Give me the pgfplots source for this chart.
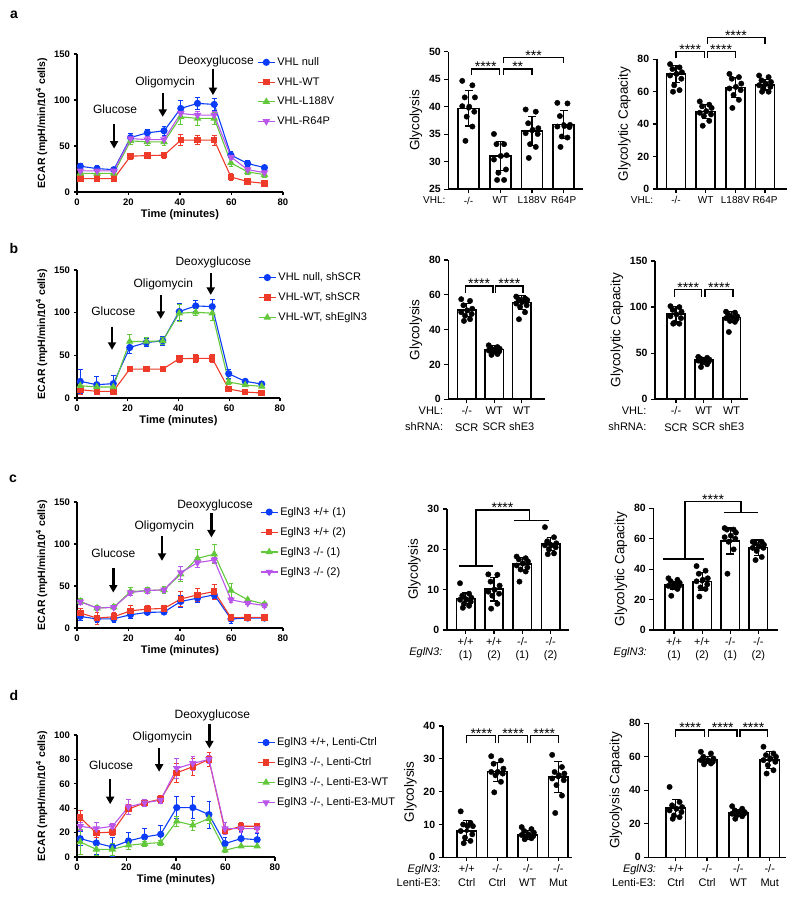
\documentclass[border=0pt]{standalone}
\usepackage{pgfplots}
\pgfplotsset{compat=1.18}
\usepackage{fontspec}
\setmainfont{Liberation Sans}
\usetikzlibrary{arrows.meta}

\definecolor{cblue}{RGB}{10,60,250}
\definecolor{cred}{RGB}{238,58,40}
\definecolor{cgreen}{RGB}{100,200,60}
\definecolor{cpurple}{RGB}{185,85,235}

\pgfplotsset{
  ecar/.style={
    scale only axis, axis lines=left, axis line style={-, line width=1.3pt},
    tick style={black, line width=1.1pt}, tick align=outside, major tick length=3.5pt,
    xmin=0, xmax=80, xtick={0,20,40,60,80}, ymin=0, clip=false,
    /pgf/number format/assume math mode=true,
    ticklabel style={font=\fontsize{9.5}{10}\selectfont\bfseries},
    xlabel={Time (minutes)}, ylabel={ECAR (mpH/min/10\textsuperscript{4} cells)},
    xlabel style={font=\fontsize{11}{12}\selectfont\bfseries, yshift=3pt},
    ylabel style={font=\fontsize{10.5}{11}\selectfont\bfseries},
    legend cell align=left,
    legend style={draw=none, fill=none, font=\fontsize{11}{12}\selectfont,
      anchor=north west, inner sep=0pt, row sep=6.5pt},
  },
  ser/.style={#1, line width=1.1pt, mark options={solid, fill=#1},
    /pgfplots/error bars/y dir=both, /pgfplots/error bars/y explicit,
    /pgfplots/error bars/error bar style={line width=0.8pt},
    /pgfplots/error bars/error mark options={rotate=90, mark size=2.3pt, line width=0.8pt}},
  barax/.style={
    scale only axis, axis lines=left, axis line style={-, line width=1.6pt},
    tick style={black, line width=1.3pt}, tick align=outside, major tick length=4pt,
    ymin=0, clip=false,
    /pgf/number format/assume math mode=true,
    yticklabel style={font=\fontsize{10.5}{11}\selectfont\bfseries},
    xticklabel style={font=\fontsize{11}{16.5}\selectfont, align=center},
    ylabel style={font=\fontsize{13.5}{14}\selectfont},
  },
  barplot/.style={ybar, bar width=#1, fill=white, draw=black, line width=1.6pt},
  dots/.style={only marks, mark=*, mark size=2.7pt, black},
  errs/.style={only marks, mark=none,
    /pgfplots/error bars/y dir=both, /pgfplots/error bars/y explicit,
    /pgfplots/error bars/error bar style={black, line width=1.2pt},
    /pgfplots/error bars/error mark options={black, rotate=90, mark size=4pt, line width=1.2pt}},
}
\tikzset{
  arr/.style={-{Triangle[length=7.5pt,width=8pt]}, line width=2.4pt, black},
  ann/.style={font=\fontsize{12}{12}\selectfont},
  brk/.style={line width=1.3pt},
  stars/.style={font=\fontsize{14}{14}\selectfont, inner sep=0pt, anchor=south, yshift=-3pt},
  pref/.style={anchor=north east, inner sep=0.3333em, yshift=-4pt, align=right},
  panel/.style={font=\fontsize{14}{14}\selectfont\bfseries},
}

\begin{document}
\begin{tikzpicture}
\useasboundingbox (0,0) rectangle (800pt,906pt);

\node[panel] at (14pt,891pt) {a};
\node[panel] at (14pt,657pt) {b};
\node[panel] at (13pt,427pt) {c};
\node[panel] at (14pt,211pt) {d};

% ---------------- row a ----------------
\begin{axis}[ecar, at={(77pt,714pt)}, anchor=south west, width=206pt, height=138pt,
  ymax=150, ytick={0,50,100,150}, legend style={at={(0.874,0.99)}},
  legend entries={VHL null, VHL-WT, VHL-L188V, VHL-R64P}]
\addplot[ser=cblue, mark=*, mark size=3pt] coordinates {
 (1.3,28) +- (0,3.5) (7.8,25.4) +- (0,3) (14.3,24.3) +- (0,2.5) (20.8,59.2) +- (0,4)
 (27.3,64.3) +- (0,4) (33.8,66.5) +- (0,4.5) (40.3,90.8) +- (0,9) (46.8,96.3) +- (0,6)
 (53.3,95.2) +- (0,6) (59.8,40) +- (0,4) (66.3,30.9) +- (0,3) (72.8,26.5) +- (0,2)};
\addplot[ser=cred, mark=square*, mark size=2.7pt] coordinates {
 (1.3,14.5) +- (0,2) (7.8,14.5) +- (0,1.5) (14.3,14.5) +- (0,2) (20.8,38.9) +- (0,3.5)
 (27.3,39.6) +- (0,3) (33.8,40) +- (0,3.5) (40.3,56.3) +- (0,6) (46.8,56.3) +- (0,5)
 (53.3,56.3) +- (0,5.5) (59.8,16.3) +- (0,4) (66.3,11.3) +- (0,2) (72.8,9.4) +- (0,1.5)};
\addplot[ser=cgreen, mark=triangle*, mark size=3.3pt] coordinates {
 (1.3,20.3) +- (0,2) (7.8,20.3) +- (0,2) (14.3,20.3) +- (0,2) (20.8,55.6) +- (0,4)
 (27.3,54.5) +- (0,4) (33.8,54.5) +- (0,4) (40.3,81.7) +- (0,8) (46.8,80) +- (0,8)
 (53.3,80) +- (0,7) (59.8,31.6) +- (0,4) (66.3,21.8) +- (0,3) (72.8,18.9) +- (0,3)};
\addplot[ser=cpurple, mark=triangle*, mark size=3.3pt, mark options={solid, fill=cpurple, rotate=180}] coordinates {
 (1.3,22.9) +- (0,2) (7.8,22.9) +- (0,2) (14.3,22.9) +- (0,2) (20.8,58) +- (0,3)
 (27.3,57) +- (0,3) (33.8,57) +- (0,3) (40.3,85.4) +- (0,4) (46.8,83.5) +- (0,4)
 (53.3,83.5) +- (0,4) (59.8,38) +- (0,3) (66.3,24.3) +- (0,2) (72.8,21) +- (0,2)};
\draw[arr] (axis cs:14.4,73.7) -- (axis cs:14.4,47.2);
\draw[arr] (axis cs:33.3,107.9) -- (axis cs:33.3,81.7);
\draw[arr] (axis cs:52.8,134) -- (axis cs:52.8,105.3);
\node[ann] at (axis cs:14.8,89.7) {Glucose};
\node[ann] at (axis cs:34.2,119) {Oligomycin};
\node[ann] at (axis cs:54,142.4) {Deoxyglucose};
\end{axis}

\begin{axis}[barax, at={(448.3pt,716.7pt)}, anchor=south west, width=134.4pt, height=137.6pt,
  xmin=-0.64, xmax=3.6, ymin=25, ymax=50, ytick={25,30,...,50}, clip mode=individual,
  xticklabel style={font=\fontsize{10}{12}\selectfont},
  xtick={0,1,2,3}, xticklabels={-/-, WT, L188V, R64P}, ylabel={Glycolysis}]
\addplot[barplot=0.66] coordinates {(0,39.7) (1,31.05) (2,35.6) (3,36.8)};
\addplot[dots] coordinates {
 (-0.2,44.7) (0.12,43.9) (-0.12,41.7) (0.2,41.7) (0.02,40.0) (-0.2,40.1) (0.18,39.1) (-0.06,38.2) (0.12,36.4) (-0.1,33.8)
 (0.8,35.05) (1.12,33.2) (0.88,33.2) (1.2,31.2) (1.02,31.05) (0.8,30.4) (1.18,28.6) (0.94,28.0) (1.12,26.7) (0.9,26.7)
 (1.8,39.5) (2.12,39.1) (1.88,37.0) (2.2,36.1) (2.02,35.8) (1.8,35.2) (2.18,35.05) (1.94,33.2) (2.12,32.7) (1.9,30.7)
 (2.8,40.7) (3.12,40.6) (2.88,38.3) (3.2,36.7) (3.02,36.5) (2.8,36.4) (3.18,36.3) (2.94,34.6) (3.12,34.4) (2.9,32.7)};
\addplot[errs] coordinates {(0,39.7) +- (0,3.2) (1,31.05) +- (0,2.7) (2,35.6) +- (0,2.6) (3,36.8) +- (0,2.5)};
\draw[brk] (axis cs:0.1,45.76) |- (axis cs:0.98,46.85) -- (axis cs:0.98,45.76);
\node[stars] at (axis cs:0.54,46.85) {****};
\draw[brk] (axis cs:1.1,45.76) |- (axis cs:2.0,46.85) -- (axis cs:2.0,45.76);
\node[stars] at (axis cs:1.55,46.85) {**};
\draw[brk] (axis cs:1.1,47.9) |- (axis cs:3.0,48.97) -- (axis cs:3.0,47.9);
\node[stars] at (axis cs:2.05,48.97) {***};
\node[pref, font=\fontsize{10}{12}\selectfont] at (axis cs:-0.62,25) {VHL:};
\end{axis}

\begin{axis}[barax, at={(656.7pt,717pt)}, anchor=south west, width=130pt, height=129.7pt,
  xmin=-0.65, xmax=3.73, ymax=80, ytick={0,20,...,80},
  xticklabel style={font=\fontsize{10}{12}\selectfont},
  xtick={0,1,2,3}, xticklabels={-/-, WT, L188V, R64P}, ylabel={Glycolytic Capacity}]
\addplot[barplot=0.64] coordinates {(0,70.9) (1,47.7) (2,62.7) (3,64.2)};
\addplot[dots] coordinates {
 (-0.2,77) (0.12,75) (-0.12,74) (0.2,72) (0.02,71) (-0.2,70) (0.18,68) (-0.06,64) (0.12,61) (-0.1,60)
 (0.8,54) (1.12,52) (0.88,51) (1.2,50) (1.02,48) (0.8,47) (1.18,46) (0.94,45) (1.12,42) (0.9,39)
 (1.8,71) (2.12,69) (1.88,68) (2.2,65) (2.02,63) (1.8,62) (2.18,61) (1.94,58) (2.12,55) (1.9,50)
 (2.8,70) (3.12,69) (2.88,67) (3.2,66) (3.02,65) (2.8,64) (3.18,63) (2.94,62) (3.12,60) (2.9,60)};
\addplot[errs] coordinates {(0,70.9) +- (0,5.3) (1,47.7) +- (0,4.3) (2,62.7) +- (0,6.2) (3,64.2) +- (0,3.2)};
\draw[brk] (axis cs:0,80.6) |- (axis cs:0.95,84.7) -- (axis cs:0.95,80.6);
\node[stars] at (axis cs:0.48,84.7) {****};
\draw[brk] (axis cs:1.05,80.6) |- (axis cs:2.0,84.7) -- (axis cs:2.0,80.6);
\node[stars] at (axis cs:1.52,84.7) {****};
\draw[brk] (axis cs:1.05,89.5) |- (axis cs:3.0,93.4) -- (axis cs:3.0,89.5);
\node[stars] at (axis cs:2.02,93.4) {****};
\node[pref, font=\fontsize{10}{12}\selectfont] at (axis cs:-0.65,0) {VHL:};
\end{axis}

% ---------------- row b ----------------
\begin{axis}[ecar, at={(77pt,508pt)}, anchor=south west, width=203pt, height=128pt,
  ymax=150, ytick={0,50,100,150}, legend style={at={(0.892,0.995)}},
  legend entries={{VHL null, shSCR}, {VHL-WT, shSCR}, {VHL-WT, shEglN3}}]
\addplot[ser=cblue, mark=*, mark size=3pt] coordinates {
 (1.3,19.5) +- (0,14) (7.8,15.6) +- (0,10) (14.3,16.8) +- (0,10) (20.8,59.2) +- (0,7)
 (27.3,65) +- (0,5) (33.8,67) +- (0,5) (40.3,101.3) +- (0,10) (46.8,107.9) +- (0,7)
 (53.3,107.1) +- (0,8) (59.8,28.4) +- (0,5) (66.3,19.5) +- (0,2) (72.8,16.4) +- (0,1.5)};
\addplot[ser=cred, mark=square*, mark size=2.7pt] coordinates {
 (1.3,9.7) +- (0,5) (7.8,7.8) +- (0,3) (14.3,7.8) +- (0,4) (20.8,33.9) +- (0,2)
 (27.3,33.9) +- (0,2) (33.8,33.9) +- (0,2) (40.3,46) +- (0,4.5) (46.8,46.4) +- (0,5)
 (53.3,46.4) +- (0,5) (59.8,10.5) +- (0,2.5) (66.3,7) +- (0,1.5) (72.8,5.8) +- (0,1.5)};
\addplot[ser=cgreen, mark=triangle*, mark size=3.3pt] coordinates {
 (1.3,14.4) +- (0,4) (7.8,12.9) +- (0,4) (14.3,12.9) +- (0,4) (20.8,66.2) +- (0,8)
 (27.3,66.2) +- (0,5) (33.8,67) +- (0,4) (40.3,99.3) +- (0,10) (46.8,100.5) +- (0,4)
 (53.3,99.3) +- (0,8) (59.8,18.7) +- (0,3) (66.3,15.2) +- (0,2) (72.8,13.6) +- (0,1.5)};
\draw[arr] (axis cs:13.8,83.7) -- (axis cs:13.8,56.5);
\draw[arr] (axis cs:33,120.8) -- (axis cs:33,92.7);
\draw[arr] (axis cs:52.7,146) -- (axis cs:52.7,120.8);
\node[ann] at (axis cs:14.3,101.3) {Glucose};
\node[ann] at (axis cs:34,133.2) {Oligomycin};
\node[ann] at (axis cs:53.7,158.6) {Deoxyglucose};
\end{axis}

\begin{axis}[barax, at={(448.3pt,506.7pt)}, anchor=south west, width=96.8pt, height=139.3pt,
  xmin=-0.67, xmax=2.85, ymax=80, ytick={0,20,...,80},
  xtick={0,1,2}, xticklabels={{-/-\\SCR}, {WT\\SCR}, {WT\\shE3}}, ylabel={Glycolysis}]
\addplot[barplot=0.68] coordinates {(0,51.3) (1,28.7) (2,55.5)};
\addplot[dots] coordinates {
 (-0.2,57.5) (0.12,56.5) (-0.12,54) (0.2,52) (0.02,51) (-0.2,50) (0.18,49) (-0.06,48) (0.12,46) (-0.1,45)
 (0.8,31) (1.12,30) (0.88,29.5) (1.2,29) (1.02,28.5) (0.8,28) (1.18,27.5) (0.94,27) (1.12,26) (0.9,25.5)
 (1.8,59) (2.12,58) (1.88,57.5) (2.2,57) (2.02,56) (1.8,55) (2.18,54) (1.94,53) (2.12,50) (1.9,46)};
\addplot[errs] coordinates {(0,51.3) +- (0,3.8) (1,28.7) +- (0,2) (2,55.5) +- (0,3.9)};
\draw[brk] (axis cs:-0.05,61.2) |- (axis cs:0.95,65.1) -- (axis cs:0.95,61.2);
\node[stars] at (axis cs:0.45,65.1) {****};
\draw[brk] (axis cs:1.05,61.2) |- (axis cs:2.05,65.1) -- (axis cs:2.05,61.2);
\node[stars] at (axis cs:1.55,65.1) {****};
\node[pref, font=\fontsize{11}{16.5}\selectfont] at (axis cs:-0.73,0) {VHL:\\shRNA:};
\end{axis}

\begin{axis}[barax, at={(655pt,506.7pt)}, anchor=south west, width=93.3pt, height=138.3pt,
  xmin=-0.755, xmax=2.6, ymax=150, ytick={0,50,100,150},
  xtick={0,1,2}, xticklabels={{-/-\\SCR}, {WT\\SCR}, {WT\\shE3}}, ylabel={Glycolytic Capacity}]
\addplot[barplot=0.64] coordinates {(0,92.5) (1,42.6) (2,88.9)};
\addplot[dots] coordinates {
 (-0.2,101) (0.12,100) (-0.12,97) (0.2,95) (0.02,92) (-0.2,90) (0.18,88) (-0.06,83) (0.12,82) (-0.1,82)
 (0.8,46) (1.12,45) (0.88,44) (1.2,43) (1.02,42) (0.8,42) (1.18,41) (0.94,40) (1.12,38) (0.9,35)
 (1.8,95) (2.12,94) (1.88,92) (2.2,90) (2.02,89) (1.8,88) (2.18,87) (1.94,85) (2.12,84) (1.9,73)};
\addplot[errs] coordinates {(0,92.5) +- (0,8) (1,42.6) +- (0,3) (2,88.9) +- (0,6)};
\draw[brk] (axis cs:-0.05,111.3) |- (axis cs:0.92,119.3) -- (axis cs:0.92,111.3);
\node[stars] at (axis cs:0.44,119.3) {****};
\draw[brk] (axis cs:1.04,111.3) |- (axis cs:2.05,119.3) -- (axis cs:2.05,111.3);
\node[stars] at (axis cs:1.55,119.3) {****};
\node[pref, font=\fontsize{11}{16.5}\selectfont] at (axis cs:-0.94,0) {VHL:\\shRNA:};
\end{axis}

% ---------------- row c ----------------
\begin{axis}[ecar, at={(77pt,278pt)}, anchor=south west, width=206pt, height=126pt,
  ymax=150, ytick={0,50,100,150}, legend style={at={(0.888,0.975)}},
  legend entries={EglN3 +/+ (1), EglN3 +/+ (2), EglN3 -/- (1), EglN3 -/- (2)}]
\addplot[ser=cblue, mark=*, mark size=3pt] coordinates {
 (1.3,13.8) +- (0,5) (7.8,10.7) +- (0,4) (14.3,11) +- (0,4) (20.8,15.8) +- (0,4)
 (27.3,18.6) +- (0,3) (33.8,19) +- (0,3) (40.3,31.6) +- (0,7) (46.8,35.5) +- (0,5)
 (53.3,39.5) +- (0,4) (59.8,10.7) +- (0,5) (66.3,11.8) +- (0,2) (72.8,11.8) +- (0,2)};
\addplot[ser=cred, mark=square*, mark size=2.7pt] coordinates {
 (1.3,17.8) +- (0,5) (7.8,11.8) +- (0,7) (14.3,13.4) +- (0,5) (20.8,20.5) +- (0,6)
 (27.3,22.5) +- (0,4) (33.8,23.3) +- (0,4) (40.3,34.5) +- (0,9) (46.8,39.5) +- (0,8)
 (53.3,43.4) +- (0,9) (59.8,12.2) +- (0,2) (66.3,12.6) +- (0,2) (72.8,12.6) +- (0,2)};
\addplot[ser=cgreen, mark=triangle*, mark size=3.3pt] coordinates {
 (1.3,31.6) +- (0,4) (7.8,23.7) +- (0,3) (14.3,24.9) +- (0,3) (20.8,43.4) +- (0,5)
 (27.3,44.6) +- (0,4) (33.8,45.4) +- (0,4) (40.3,64) +- (0,9) (46.8,82.9) +- (0,11)
 (53.3,88) +- (0,11) (59.8,44.6) +- (0,8) (66.3,33.6) +- (0,2) (72.8,28.4) +- (0,2)};
\addplot[ser=cpurple, mark=triangle*, mark size=3.3pt, mark options={solid, fill=cpurple, rotate=180}] coordinates {
 (1.3,31.2) +- (0,3) (7.8,23.7) +- (0,2) (14.3,24.5) +- (0,2) (20.8,42.2) +- (0,3)
 (27.3,44.6) +- (0,3) (33.8,45.4) +- (0,3) (40.3,65.9) +- (0,8) (46.8,77.8) +- (0,6)
 (53.3,80.9) +- (0,3) (59.8,33.6) +- (0,3) (66.3,29.6) +- (0,2) (72.8,26.8) +- (0,2)};
\draw[arr] (axis cs:14.1,71) -- (axis cs:14.1,42.2);
\draw[arr] (axis cs:33,109) -- (axis cs:33,80);
\draw[arr] (axis cs:52.2,137) -- (axis cs:52.2,107.8);
\node[ann] at (axis cs:14.1,88.8) {Glucose};
\node[ann] at (axis cs:33.9,121) {Oligomycin};
\node[ann] at (axis cs:53.6,146) {Deoxyglucose};
\end{axis}

\begin{axis}[barax, at={(446.7pt,276pt)}, anchor=south west, width=122.6pt, height=121pt,
  xmin=-0.67, xmax=3.66, ymax=30, ytick={0,10,20,30},
  xticklabel style={font=\fontsize{11}{13}\selectfont},
  xtick={0,1,2,3}, xticklabels={{+/+\\(1)}, {+/+\\(2)}, {-/-\\(1)}, {-/-\\(2)}}, ylabel={Glycolysis}]
\addplot[barplot=0.65] coordinates {(0,7.85) (1,10.1) (2,16.4) (3,21.3)};
\addplot[dots] coordinates {
 (-0.2,11.6) (0.12,9) (-0.12,8.5) (0.2,8) (0.02,7.5) (-0.2,7.5) (0.18,7) (-0.06,6.5) (0.12,6) (-0.1,5.5)
 (0.8,13.8) (1.12,13.7) (0.88,12) (1.2,11) (1.02,10) (0.8,9.5) (1.18,9) (0.94,8.5) (1.12,6.5) (0.9,5.3)
 (1.8,18.2) (2.12,17.8) (1.88,17.5) (2.2,17) (2.02,16.5) (1.8,16) (2.18,15.5) (1.94,15) (2.12,14.5) (1.9,12)
 (2.8,25.5) (3.12,23) (2.88,22) (3.2,21.5) (3.02,21) (2.8,21) (3.18,20.5) (2.94,20) (3.12,19) (2.9,18.8)};
\addplot[errs] coordinates {(0,7.85) +- (0,1.3) (1,10.1) +- (0,2.9) (2,16.4) +- (0,1.6) (3,21.3) +- (0,1.6)};
\draw[brk] (axis cs:-0.25,15.9) -- (axis cs:0.98,15.9);
\draw[brk] (axis cs:0.36,15.9) |- (axis cs:2.25,29.75) -- (axis cs:2.25,27.1);
\draw[brk] (axis cs:1.7,27.1) -- (axis cs:2.93,27.1);
\node[stars] at (axis cs:1.3,29.75) {****};
\node[anchor=east, font=\fontsize{11}{13}\selectfont\itshape] at ([yshift=-23pt]axis cs:-0.7,0) {EglN3:};
\end{axis}

\begin{axis}[barax, at={(653.3pt,276pt)}, anchor=south west, width=125pt, height=121.7pt,
  xmin=-0.74, xmax=3.71, ymax=80, ytick={0,20,...,80},
  xticklabel style={font=\fontsize{11}{13}\selectfont},
  xtick={0,1,2,3}, xticklabels={{+/+\\(1)}, {+/+\\(2)}, {-/-\\(1)}, {-/-\\(2)}}, ylabel={Glycolytic Capacity}]
\addplot[barplot=0.65] coordinates {(0,29.5) (1,32) (2,58.5) (3,54.2)};
\addplot[dots] coordinates {
 (-0.2,34) (0.12,33) (-0.12,32) (0.2,31) (0.02,30) (-0.2,29) (0.18,29) (-0.06,28) (0.12,27) (-0.1,22.5)
 (0.8,42) (1.12,39) (0.88,37) (1.2,34) (1.02,33) (0.8,32) (1.18,30) (0.94,28) (1.12,27) (0.9,22)
 (1.8,67) (2.12,66) (1.88,66) (2.2,64) (2.02,62) (1.8,61) (2.18,60) (1.94,58) (2.12,53) (1.9,37)
 (2.8,58) (3.12,58) (2.88,57) (3.2,56) (3.02,55) (2.8,54) (3.18,54) (2.94,52) (3.12,48) (2.9,46)};
\addplot[errs] coordinates {(0,29.5) +- (0,2.5) (1,32) +- (0,6) (2,58.5) +- (0,8.5) (3,54.2) +- (0,5)};
\draw[brk] (axis cs:-0.38,46.7) -- (axis cs:1.07,46.7);
\draw[brk] (axis cs:0.39,46.7) |- (axis cs:2.38,84.4) -- (axis cs:2.38,77.2);
\draw[brk] (axis cs:1.76,77.2) -- (axis cs:2.97,77.2);
\node[stars] at (axis cs:1.39,84.4) {****};
\node[anchor=east, font=\fontsize{11}{13}\selectfont\itshape] at ([yshift=-23pt]axis cs:-0.85,0) {EglN3:};
\end{axis}

% ---------------- row d ----------------
\begin{axis}[ecar, at={(77pt,49pt)}, anchor=south west, width=198pt, height=122pt,
  ymax=100, ytick={0,20,...,100}, legend style={at={(0.908,0.995)}},
  legend entries={{EglN3 +/+, Lenti-Ctrl}, {EglN3 -/-, Lenti-Ctrl}, {EglN3 -/-, Lenti-E3-WT}, {EglN3 -/-, Lenti-E3-MUT}}]
\addplot[ser=cblue, mark=*, mark size=3pt] coordinates {
 (1.3,15.1) +- (0,6) (7.8,11.5) +- (0,9) (14.3,8.2) +- (0,8) (20.8,13.2) +- (0,7)
 (27.3,16.4) +- (0,7) (33.8,18.6) +- (0,7) (40.3,40.5) +- (0,9) (46.8,40.5) +- (0,9)
 (53.3,34.8) +- (0,11) (59.8,11) +- (0,5) (66.3,15.1) +- (0,6) (72.8,14.2) +- (0,5)};
\addplot[ser=cred, mark=square*, mark size=2.7pt] coordinates {
 (1.3,32.3) +- (0,6) (7.8,19.7) +- (0,4) (14.3,20.5) +- (0,3) (20.8,39.2) +- (0,4)
 (27.3,44.4) +- (0,3) (33.8,47.4) +- (0,3) (40.3,69) +- (0,8) (46.8,74) +- (0,7)
 (53.3,80) +- (0,6) (59.8,21.4) +- (0,3) (66.3,25.2) +- (0,3) (72.8,25.2) +- (0,2)};
\addplot[ser=cgreen, mark=triangle*, mark size=3.3pt] coordinates {
 (1.3,12.3) +- (0,10) (7.8,6.3) +- (0,5) (14.3,6.3) +- (0,5) (20.8,9.6) +- (0,3)
 (27.3,11) +- (0,2) (33.8,11.8) +- (0,2) (40.3,29.3) +- (0,4) (46.8,26) +- (0,4)
 (53.3,31.5) +- (0,4) (59.8,5.5) +- (0,2) (66.3,8.8) +- (0,1) (72.8,8.8) +- (0,1)};
\addplot[ser=cpurple, mark=triangle*, mark size=3.3pt, mark options={solid, fill=cpurple, rotate=180}] coordinates {
 (1.3,25.2) +- (0,3) (7.8,23.3) +- (0,5) (14.3,25.2) +- (0,2) (20.8,41.1) +- (0,6)
 (27.3,44.4) +- (0,3) (33.8,46.6) +- (0,3) (40.3,72.6) +- (0,8) (46.8,76.7) +- (0,6)
 (53.3,80) +- (0,3) (59.8,23.3) +- (0,5) (66.3,23.3) +- (0,3) (72.8,23.3) +- (0,3)};
\draw[arr] (axis cs:13.4,63.6) -- (axis cs:13.4,43.3);
\draw[arr] (axis cs:33.2,89.6) -- (axis cs:33.2,69.9);
\draw[arr] (axis cs:53.5,109) -- (axis cs:53.5,89);
\node[ann] at (axis cs:13.8,75.3) {Glucose};
\node[ann] at (axis cs:34.5,98) {Oligomycin};
\node[ann] at (axis cs:54.7,116) {Deoxyglucose};
\end{axis}

\begin{axis}[barax, at={(442.7pt,48.7pt)}, anchor=south west, width=129pt, height=131.3pt,
  xmin=-0.79, xmax=3.44, ymax=40, ytick={0,10,...,40},
  xticklabel style={font=\fontsize{11}{14}\selectfont},
  xtick={0,1,2,3}, xticklabels={{+/+\\Ctrl}, {-/-\\Ctrl}, {-/-\\WT}, {-/-\\Mut}}, ylabel={Glycolysis}]
\addplot[barplot=0.63] coordinates {(0,8.1) (1,26.1) (2,6.8) (3,24.4)};
\addplot[dots] coordinates {
 (-0.2,14) (0.12,10.5) (-0.12,10) (0.2,9.5) (0.02,9.5) (-0.2,8) (0.18,7) (-0.06,6) (0.12,5) (-0.1,4.3)
 (0.8,30.8) (1.12,29.5) (0.88,28.5) (1.2,27) (1.02,26) (0.8,26) (1.18,25.5) (0.94,25) (1.12,23) (0.9,19.8)
 (1.8,9.2) (2.12,8.6) (1.88,8) (2.2,7.5) (2.02,7) (1.8,6.8) (2.18,6.5) (1.94,6) (2.12,5.8) (1.9,5.5)
 (2.8,31.2) (3.12,27.5) (2.88,26) (3.2,25.5) (3.02,25) (2.8,24) (3.18,23.5) (2.94,22) (3.12,18.8) (2.9,13.5)};
\addplot[errs] coordinates {(0,8.1) +- (0,3) (1,26.1) +- (0,2.9) (2,6.8) +- (0,1.3) (3,24.4) +- (0,4.7)};
\draw[brk] (axis cs:0,34.7) |- (axis cs:0.95,37) -- (axis cs:0.95,34.7);
\node[stars] at (axis cs:0.48,37) {****};
\draw[brk] (axis cs:1.05,34.7) |- (axis cs:1.98,37) -- (axis cs:1.98,34.7);
\node[stars] at (axis cs:1.52,37) {****};
\draw[brk] (axis cs:2.08,34.7) |- (axis cs:3.0,37) -- (axis cs:3.0,34.7);
\node[stars] at (axis cs:2.54,37) {****};
\node[pref, font=\fontsize{11}{14}\selectfont] at (axis cs:-0.74,0) {\textit{EglN3:}\\Lenti-E3:};
\end{axis}

\begin{axis}[barax, at={(648.3pt,48.7pt)}, anchor=south west, width=138pt, height=134pt,
  xmin=-0.88, xmax=3.53, ymax=80, ytick={0,20,...,80},
  xticklabel style={font=\fontsize{11}{14}\selectfont},
  xtick={0,1,2,3}, xticklabels={{+/+\\Ctrl}, {-/-\\Ctrl}, {-/-\\WT}, {-/-\\Mut}}, ylabel={Glycolysis Capacity}]
\addplot[barplot=0.62] coordinates {(0,29.3) (1,58.1) (2,26.7) (3,58.1)};
\addplot[dots] coordinates {
 (-0.2,42) (0.12,33) (-0.12,31) (0.2,30) (0.02,29) (-0.2,28) (0.18,27) (-0.06,25) (0.12,24) (-0.1,23)
 (0.8,63) (1.12,62) (0.88,60) (1.2,59) (1.02,58) (0.8,58) (1.18,57) (0.94,57) (1.12,56) (0.9,55.5)
 (1.8,30.5) (2.12,29) (1.88,28) (2.2,27) (2.02,27) (1.8,26) (2.18,26) (1.94,25) (2.12,24.5) (1.9,23)
 (2.8,66) (3.12,62) (2.88,61) (3.2,60) (3.02,59) (2.8,58) (3.18,57) (2.94,55) (3.12,52) (2.9,50)};
\addplot[errs] coordinates {(0,29.3) +- (0,5) (1,58.1) +- (0,2) (2,26.7) +- (0,2) (3,58.1) +- (0,5)};
\draw[brk] (axis cs:0,71.6) |- (axis cs:0.92,76) -- (axis cs:0.92,71.6);
\node[stars] at (axis cs:0.46,76) {****};
\draw[brk] (axis cs:1.05,71.6) |- (axis cs:1.95,76) -- (axis cs:1.95,71.6);
\node[stars] at (axis cs:1.5,76) {****};
\draw[brk] (axis cs:2.05,71.6) |- (axis cs:2.92,76) -- (axis cs:2.92,71.6);
\node[stars] at (axis cs:2.48,76) {****};
\node[pref, font=\fontsize{11}{14}\selectfont] at (axis cs:-0.52,0) {\textit{EglN3:}\\Lenti-E3:};
\end{axis}

\end{tikzpicture}
\end{document}
